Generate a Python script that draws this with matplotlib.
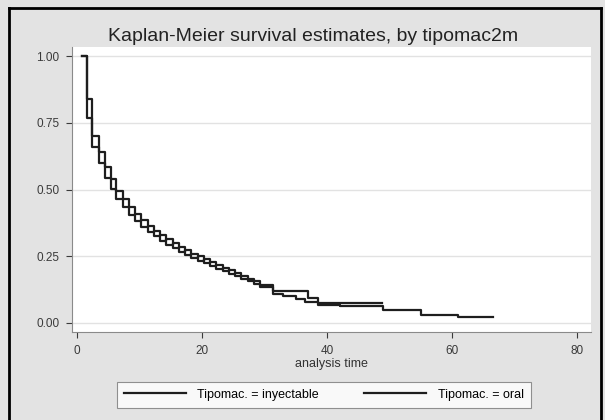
import matplotlib
matplotlib.use('Agg')
import matplotlib.pyplot as plt
from matplotlib.lines import Line2D

plt.rcParams['font.family'] = ['Liberation Sans', 'DejaVu Sans']

# Tiempos de los escalones (inicio de cada intervalo)
t_inyectable = [0.8, 1.6, 2.4, 3.5, 4.5, 5.4, 6.3, 7.3, 8.3, 9.3, 10.3, 11.3, 12.3, 13.3,
                14.3, 15.3, 16.3, 17.3, 18.3, 19.3, 20.3, 21.3, 22.3, 23.3, 24.3, 25.3,
                26.3, 27.3, 28.3, 29.3, 31.4, 37.0, 38.6, 48.8]
s_inyectable = [1.0, 0.841, 0.658, 0.642, 0.545, 0.538, 0.464, 0.465, 0.406, 0.408, 0.360,
                0.364, 0.324, 0.328, 0.293, 0.298, 0.267, 0.272, 0.244, 0.249, 0.224, 0.228,
                0.204, 0.207, 0.185, 0.187, 0.166, 0.166, 0.146, 0.143, 0.118, 0.094, 0.075,
                0.075]

t_oral = [0.8, 1.6, 2.4, 3.5, 4.5, 5.4, 6.3, 7.3, 8.3, 9.3, 10.3, 11.3, 12.3, 13.3,
          14.3, 15.3, 16.3, 17.3, 18.3, 19.3, 20.3, 21.3, 22.3, 23.3, 24.3, 25.3,
          26.3, 27.3, 28.3, 29.3, 31.4, 33.0, 35.0, 36.5, 38.6, 42.0, 49.0, 55.0,
          61.0, 66.5]
s_oral = [1.0, 0.769, 0.702, 0.598, 0.585, 0.502, 0.496, 0.435, 0.434, 0.382, 0.384,
          0.340, 0.346, 0.308, 0.313, 0.280, 0.285, 0.256, 0.260, 0.233, 0.238, 0.214,
          0.218, 0.195, 0.197, 0.175, 0.176, 0.156, 0.156, 0.133, 0.110, 0.100, 0.090,
          0.080, 0.068, 0.062, 0.050, 0.030, 0.022, 0.022]

grupos = ['Tipomac. = inyectable', 'Tipomac. = oral']
xticks = [0, 20, 40, 60, 80]
yticks = [0.0, 0.25, 0.5, 0.75, 1.0]

fig = plt.figure(figsize=(6.05, 4.2), dpi=100)
fig.patch.set_facecolor('#e3e3e3')

ax = fig.add_axes([0.119, 0.2095, 0.858, 0.6785])
ax.set_facecolor('white')

ax.step(t_inyectable, s_inyectable, where='post', color='#1e1e1e', linewidth=1.6,
        label=grupos[0])
ax.step(t_oral, s_oral, where='post', color='#1e1e1e', linewidth=1.6, label=grupos[1])

ax.set_xlim(-0.8, 82.2)
ax.set_ylim(-0.034, 1.034)
ax.set_xticks(xticks)
ax.set_yticks(yticks)
ax.set_yticklabels(['%.2f' % v for v in yticks])
ax.tick_params(labelsize=8.5, colors='#3a3a3a', length=4, width=0.8, pad=5)
ax.grid(True, axis='y', color='#e2e2e2', linewidth=1.0)
ax.set_axisbelow(True)
for lado in ['top', 'right']:
    ax.spines[lado].set_visible(False)
for lado in ['left', 'bottom']:
    ax.spines[lado].set_color('#8a8a8a')
    ax.spines[lado].set_linewidth(0.8)

ax.set_xlabel('analysis time', fontsize=9, color='#333333', labelpad=1)

fig.text(0.517, 0.912, 'Kaplan-Meier survival estimates, by tipomac2m',
         ha='center', va='center', fontsize=14, color='#222222')

leg = fig.legend(loc='center', bbox_to_anchor=(0.535, 0.06), ncol=2, fontsize=9,
                 frameon=True, fancybox=False, handlelength=5.0, columnspacing=3.6,
                 borderpad=0.55, handletextpad=0.9)
leg.get_frame().set_edgecolor('#777777')
leg.get_frame().set_facecolor('white')
leg.get_frame().set_linewidth(0.8)

# borde negro exterior
for xs, ys in [([0.015, 0.015], [0.0, 0.98]), ([0.015, 0.993], [0.98, 0.98]),
               ([0.993, 0.993], [0.0, 0.98])]:
    fig.add_artist(Line2D(xs, ys, color='black', linewidth=2.0, transform=fig.transFigure))

fig.savefig('out.png', dpi=100, facecolor=fig.get_facecolor())
